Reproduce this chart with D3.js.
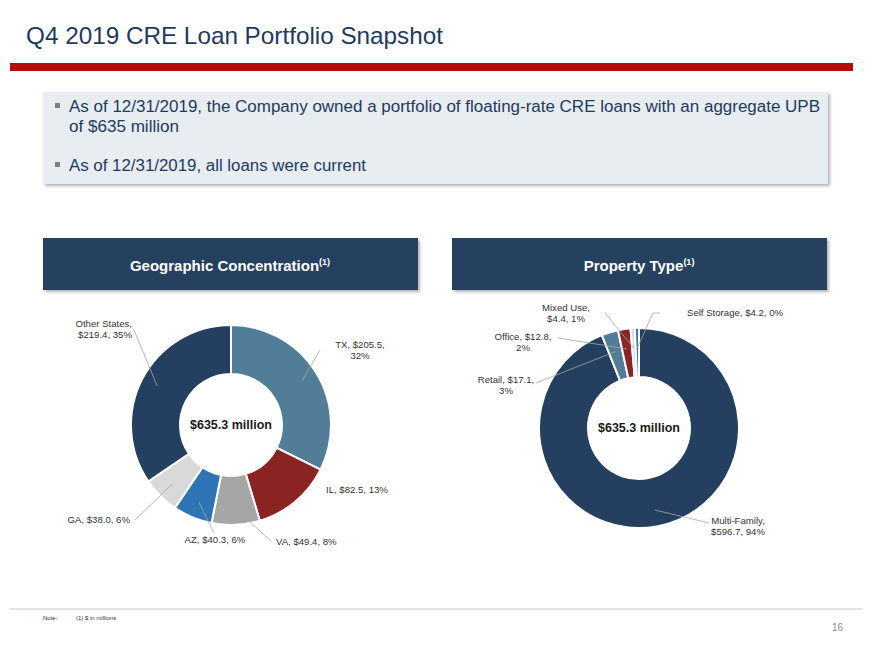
<!DOCTYPE html>
<html lang="en">
<head>
  <meta charset="UTF-8" />
  <title>Q4 2019 CRE Loan Portfolio Snapshot</title>
  <script src="https://d3js.org/d3.v7.min.js"></script>
  <style>
    body {
      margin: 0;
      background: #fff;
      font-family: Arial, "Liberation Sans", sans-serif;
    }
    .slice-label {
      font-size: 9.6px;
      fill: #333;
    }
    .leader {
      stroke: #a6a6a6;
      stroke-width: 0.8px;
      fill: none;
    }
  </style>
</head>
<body>

<svg id="slide" width="870" height="652"></svg>

<script>
// Geographic concentration ($ in millions), clockwise from 12 o'clock
const geoStates = ["TX", "IL", "VA", "AZ", "GA", "Other States"];
const geoValues = [205.5, 82.5, 49.4, 40.3, 38.0, 219.4];
const geoPcts = ["32%", "13%", "8%", "6%", "6%", "35%"];

// Property type ($ in millions), clockwise from 12 o'clock
const propTypes = ["Multi-Family", "Retail", "Office", "Mixed Use", "Self Storage"];
const propValues = [596.7, 17.1, 12.8, 4.4, 4.2];
const propPcts = ["94%", "3%", "2%", "1%", "0%"];

const totalLabel = "$635.3 million";

const geoColors = ["#527d98", "#8b2323", "#a6a6a6", "#2e75b6", "#d9d9d9", "#243f60"];
const propColors = ["#243f60", "#527d98", "#8b2323", "#d9d9d9", "#2e75b6"];

// label placement: text lines, anchor point, text-anchor, leader end point
const geoLabelPos = {
  "TX":           {lines: ["TX, $205.5,", "32%"], x: 360, y: 348, anchor: "middle", lx: 320, ly: 350},
  "IL":           {lines: ["IL, $82.5, 13%"], x: 326, y: 493, anchor: "start", lx: null},
  "VA":           {lines: ["VA, $49.4, 8%"], x: 276, y: 545, anchor: "start", lx: 271, ly: 541},
  "AZ":           {lines: ["AZ, $40.3, 6%"], x: 215, y: 543, anchor: "middle", lx: 214, ly: 533},
  "GA":           {lines: ["GA, $38.0, 6%"], x: 130, y: 523, anchor: "end", lx: 135, ly: 520},
  "Other States": {lines: ["Other States,", "$219.4, 35%"], x: 132, y: 327, anchor: "end", lx: 134, ly: 330}
};
const propLabelPos = {
  "Multi-Family": {lines: ["Multi-Family,", "$596.7, 94%"], x: 738, y: 524, anchor: "middle", lx: 709, ly: 523},
  "Retail":       {lines: ["Retail, $17.1,", "3%"], x: 506, y: 383, anchor: "middle", lx: 536, ly: 383},
  "Office":       {lines: ["Office, $12.8,", "2%"], x: 523, y: 340, anchor: "middle", lx: 558, ly: 338},
  "Mixed Use":    {lines: ["Mixed Use,", "$4.4, 1%"], x: 566, y: 311, anchor: "middle", lx: 605, ly: 313},
  "Self Storage": {lines: ["Self Storage, $4.2, 0%"], x: 687, y: 316, anchor: "start", lx: 660, ly: 313, kx: 653}
};

const svg = d3.select("#slide");
const defs = svg.append("defs");
const shadow = defs.append("filter").attr("id", "shadow")
  .attr("x", "-5%").attr("y", "-10%").attr("width", "110%").attr("height", "130%");
shadow.append("feDropShadow")
  .attr("dx", 2).attr("dy", 2).attr("stdDeviation", 1.5)
  .attr("flood-color", "#000").attr("flood-opacity", 0.3);

// Title and red rule
svg.append("text")
  .attr("x", 26).attr("y", 44)
  .attr("textLength", 417).attr("lengthAdjust", "spacingAndGlyphs")
  .style("font-size", "24px")
  .style("fill", "#1f3a5f")
  .text("Q4 2019 CRE Loan Portfolio Snapshot");

svg.append("rect")
  .attr("x", 10).attr("y", 63).attr("width", 843).attr("height", 8)
  .attr("fill", "#b20d0d");

// Bullet box
svg.append("rect")
  .attr("x", 43).attr("y", 92).attr("width", 785).attr("height", 92)
  .attr("fill", "#e8edf2")
  .attr("filter", "url(#shadow)");

const bullets = [
  {text: "As of 12/31/2019, the Company owned a portfolio of floating-rate CRE loans with an aggregate UPB", y: 112, mark: true, len: 751},
  {text: "of $635 million", y: 132, mark: false, len: 110},
  {text: "As of 12/31/2019, all loans were current", y: 171, mark: true, len: 297}
];
bullets.forEach(b => {
  if (b.mark) {
    svg.append("rect")
      .attr("x", 55).attr("y", b.y - 9).attr("width", 5).attr("height", 5)
      .attr("fill", "#7f7f7f");
  }
  svg.append("text")
    .attr("x", 69).attr("y", b.y)
    .attr("textLength", b.len).attr("lengthAdjust", "spacingAndGlyphs")
    .style("font-size", "16px")
    .style("fill", "#1f3a5f")
    .text(b.text);
});

// Section header boxes
function header(x, title) {
  svg.append("rect")
    .attr("x", x).attr("y", 238).attr("width", 375).attr("height", 52)
    .attr("fill", "#253f5f")
    .attr("filter", "url(#shadow)");
  const t = svg.append("text")
    .attr("x", x + 187).attr("y", 271)
    .attr("text-anchor", "middle")
    .style("font-size", "15px")
    .style("font-weight", "bold")
    .style("fill", "#fff");
  t.append("tspan").text(title);
  t.append("tspan").attr("dy", -6).style("font-size", "9px").text("(1)");
}
header(43, "Geographic Concentration");
header(452, "Property Type");

// Donut charts
function donut(cx, cy, names, values, pcts, colors, labelPos) {
  const rOuter = 100, rInner = 51;
  const pie = d3.pie().sort(null).value(d => d.value);
  const arc = d3.arc().innerRadius(rInner).outerRadius(rOuter);
  const data = names.map((n, i) => ({name: n, value: values[i], pct: pcts[i], color: colors[i]}));
  const arcs = pie(data);

  const g = svg.append("g").attr("transform", `translate(${cx},${cy})`);

  g.selectAll("path")
    .data(arcs)
    .join("path")
      .attr("d", arc)
      .attr("fill", d => d.data.color)
      .attr("stroke", "#fff")
      .attr("stroke-width", 2);

  // leader lines into the slice
  arcs.forEach(a => {
    const p = labelPos[a.data.name];
    if (p.lx == null) return;
    const mid = (a.startAngle + a.endAngle) / 2;
    const inR = a.endAngle - a.startAngle < 0.2 ? rOuter * 0.8 : (rInner + rOuter) / 2 + 8;
    const px = cx + Math.sin(mid) * inR;
    const py = cy - Math.cos(mid) * inR;
    const pts = [[p.lx, p.ly]];
    if (p.kx != null) pts.push([p.kx, p.ly]);
    pts.push([px, py]);
    svg.append("path")
      .attr("class", "leader")
      .attr("d", d3.line()(pts));
  });

  arcs.forEach(a => {
    const p = labelPos[a.data.name];
    const t = svg.append("text")
      .attr("class", "slice-label")
      .attr("x", p.x).attr("y", p.y)
      .attr("text-anchor", p.anchor);
    p.lines.forEach((ln, i) => {
      t.append("tspan").attr("x", p.x).attr("dy", i === 0 ? 0 : 11).text(ln);
    });
  });

  g.append("text")
    .attr("text-anchor", "middle")
    .attr("dy", "0.35em")
    .style("font-size", "12.5px")
    .style("font-weight", "bold")
    .style("fill", "#1a1a1a")
    .text(totalLabel);
}

donut(231, 425, geoStates, geoValues, geoPcts, geoColors, geoLabelPos);
donut(639, 428, propTypes, propValues, propPcts, propColors, propLabelPos);

// Footer
svg.append("line")
  .attr("x1", 10).attr("x2", 862).attr("y1", 609).attr("y2", 609)
  .attr("stroke", "#c8c8c8").attr("stroke-width", 1);
svg.append("text")
  .attr("x", 43).attr("y", 620)
  .style("font-size", "6px").style("fill", "#333")
  .text("Note:");
svg.append("text")
  .attr("x", 76).attr("y", 620)
  .style("font-size", "6px").style("fill", "#333")
  .text("(1) $ in millions");
svg.append("text")
  .attr("x", 843).attr("y", 631)
  .attr("text-anchor", "end")
  .style("font-size", "10px").style("fill", "#8c8c8c")
  .text("16");
</script>

</body>
</html>
